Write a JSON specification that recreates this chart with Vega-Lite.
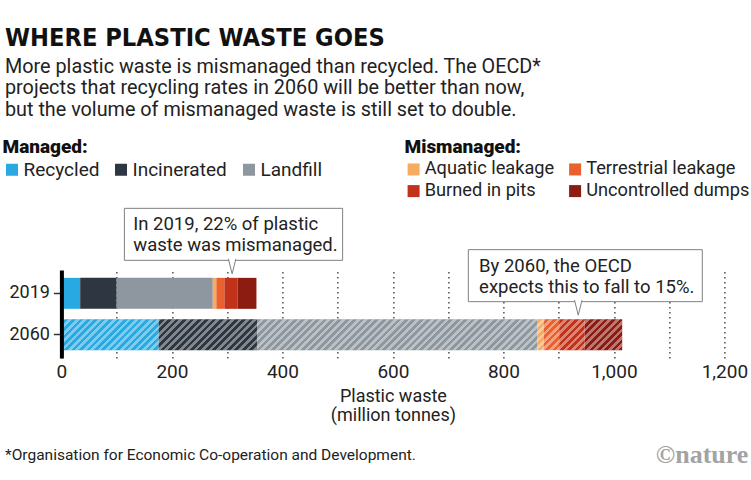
{
  "$schema": "https://vega.github.io/schema/vega-lite/v6.json",
  "width": 663,
  "height": 88,
  "autosize": {"type": "none"},
  "padding": {"left": 61.4, "top": 270, "right": 26.6, "bottom": 122},
  "background": "white",
  "config": {
    "view": {"stroke": null},
    "font": "Roboto",
    "legend": {
      "orient": "none",
      "direction": "horizontal",
      "symbolType": "square",
      "symbolSize": 144,
      "symbolStrokeWidth": 0,
      "labelFont": "Roboto",
      "labelFontSize": 18.2,
      "labelColor": "#222",
      "labelOffset": 2,
      "labelLimit": 300,
      "columnPadding": 12,
      "rowPadding": 3,
      "titleFont": "Roboto",
      "titleFontSize": 19,
      "titleFontWeight": 900,
      "titleColor": "#111",
      "titlePadding": 3,
      "padding": 0
    }
  },
  "title": {
    "text": "WHERE PLASTIC WASTE GOES",
    "subtitle": [
      "More plastic waste is mismanaged than recycled. The OECD*",
      "projects that recycling rates in 2060 will be better than now,",
      "but the volume of mismanaged waste is still set to double."
    ],
    "anchor": "start",
    "frame": "group",
    "dx": -56.4,
    "offset": 18.5,
    "font": "DejaVu Sans Condensed",
    "fontSize": 25.2,
    "fontWeight": "bold",
    "color": "#111",
    "subtitleFont": "Roboto",
    "subtitleFontSize": 19.8,
    "subtitleColor": "#222",
    "subtitleLineHeight": 21.5,
    "subtitlePadding": 6
  },
  "datasets": {
    "waste": [
      {"year": "2019", "category": "Recycled", "group": "Managed", "order": 1, "value": 34},
      {"year": "2019", "category": "Incinerated", "group": "Managed", "order": 2, "value": 66},
      {"year": "2019", "category": "Landfill", "group": "Managed", "order": 3, "value": 174},
      {"year": "2019", "category": "Aquatic leakage", "group": "Mismanaged", "order": 4, "value": 6.5},
      {"year": "2019", "category": "Terrestrial leakage", "group": "Mismanaged", "order": 5, "value": 14.5},
      {"year": "2019", "category": "Burned in pits", "group": "Mismanaged", "order": 6, "value": 24},
      {"year": "2019", "category": "Uncontrolled dumps", "group": "Mismanaged", "order": 7, "value": 34},
      {"year": "2060", "category": "Recycled", "group": "Managed", "order": 1, "value": 176},
      {"year": "2060", "category": "Incinerated", "group": "Managed", "order": 2, "value": 178},
      {"year": "2060", "category": "Landfill", "group": "Managed", "order": 3, "value": 507},
      {"year": "2060", "category": "Aquatic leakage", "group": "Mismanaged", "order": 4, "value": 12},
      {"year": "2060", "category": "Terrestrial leakage", "group": "Mismanaged", "order": 5, "value": 28},
      {"year": "2060", "category": "Burned in pits", "group": "Mismanaged", "order": 6, "value": 46},
      {"year": "2060", "category": "Uncontrolled dumps", "group": "Mismanaged", "order": 7, "value": 68}
    ],
    "notes": [
      {"year": "2019", "left": 114, "right": 509, "tip": 309, "tx": 130, "text": "In 2019, 22% of plastic|waste was mismanaged."},
      {"year": "2060", "left": 736.5, "right": 1160, "tip": 935.5, "tx": 756, "text": "By 2060, the OECD|expects this to fall to 15%."}
    ],
    "footer": [
      {"note": "*Organisation for Economic Co-operation and Development.", "logo": "©nature", "year": "2060", "start": 0, "end": 1200}
    ]
  },
  "data": {"name": "waste"},
  "transform": [
    {"stack": "value", "groupby": ["year"], "sort": [{"field": "order", "order": "ascending"}], "as": ["x0", "x1"]}
  ],
  "layer": [
    {
      "transform": [{"filter": "datum.group === 'Managed'"}],
      "mark": {"type": "bar"},
      "encoding": {
        "y": {
          "field": "year",
          "type": "nominal",
          "scale": {"domain": ["2019", "2060"], "paddingInner": 0.25, "paddingOuter": 0.19},
          "axis": {
            "title": null,
            "domainColor": "#000",
            "domainWidth": 4,
            "tickColor": "#333",
            "tickSize": 8,
            "tickWidth": 1.5,
            "labelFont": "Roboto",
            "labelFontSize": 18,
            "labelColor": "#222",
            "labelPadding": 4,
            "zindex": 2
          }
        },
        "x": {
          "field": "x0",
          "type": "quantitative",
          "scale": {"domain": [0, 1200], "nice": false},
          "axis": {
            "values": [0, 100, 200, 300, 400, 500, 600, 700, 800, 900, 1000, 1100, 1200],
            "labelExpr": "datum.value % 200 === 0 ? format(datum.value, ',') : ''",
            "labelOverlap": false,
            "labelFlush": false,
            "grid": true,
            "gridDash": [1.5, 3.5],
            "gridColor": "#222",
            "gridWidth": 1.2,
            "domain": false,
            "ticks": false,
            "labelFont": "Roboto",
            "labelFontSize": 19,
            "labelColor": "#222",
            "labelPadding": 4,
            "title": ["Plastic waste", "(million tonnes)"],
            "titleFont": "Roboto",
            "titleFontSize": 18,
            "titleFontWeight": "normal",
            "titleColor": "#222",
            "titlePadding": 6,
            "titleLineHeight": 19.5
          }
        },
        "x2": {"field": "x1"},
        "color": {
          "field": "category",
          "type": "nominal",
          "scale": {
            "domain": ["Recycled", "Incinerated", "Landfill"],
            "range": ["#29a9e1", "#2e3641", "#8e979f"]
          },
          "legend": {"title": "Managed:", "legendX": -58.9, "legendY": -132, "columns": 3, "labelFontSize": 19, "columnPadding": 12}
        }
      }
    },
    {
      "transform": [{"filter": "datum.group === 'Mismanaged'"}],
      "mark": {"type": "bar"},
      "encoding": {
        "y": {"field": "year", "type": "nominal"},
        "x": {"field": "x0", "type": "quantitative"},
        "x2": {"field": "x1"},
        "color": {
          "field": "category",
          "type": "nominal",
          "scale": {
            "domain": ["Aquatic leakage", "Terrestrial leakage", "Burned in pits", "Uncontrolled dumps"],
            "range": ["#f6ab5f", "#ea6130", "#c0321a", "#8c1b11"]
          },
          "legend": {"title": "Mismanaged:", "legendX": 343.1, "legendY": -132, "columns": 2, "labelFontSize": 18.2, "columnPadding": 11.5}
        }
      }
    },
    {
      "transform": [
        {"filter": "datum.year === '2060'"},
        {"aggregate": [{"op": "min", "field": "x0", "as": "start"}, {"op": "max", "field": "x1", "as": "total"}], "groupby": ["year"]}
      ],
      "mark": {
        "type": "bar",
        "fill": {
          "gradient": "linear",
          "x1": 0, "y1": 0, "x2": 1.05206, "y2": 0.058157,
          "stops": [
            {"offset": 0, "color": "rgba(255,255,255,0.4)"},
            {"offset": 0.00625, "color": "rgba(255,255,255,0.4)"}, {"offset": 0.00625, "color": "rgba(255,255,255,0)"},
            {"offset": 0.0125, "color": "rgba(255,255,255,0)"}, {"offset": 0.0125, "color": "rgba(255,255,255,0.4)"},
            {"offset": 0.01875, "color": "rgba(255,255,255,0.4)"}, {"offset": 0.01875, "color": "rgba(255,255,255,0)"},
            {"offset": 0.025, "color": "rgba(255,255,255,0)"}, {"offset": 0.025, "color": "rgba(255,255,255,0.4)"},
            {"offset": 0.03125, "color": "rgba(255,255,255,0.4)"}, {"offset": 0.03125, "color": "rgba(255,255,255,0)"},
            {"offset": 0.0375, "color": "rgba(255,255,255,0)"}, {"offset": 0.0375, "color": "rgba(255,255,255,0.4)"},
            {"offset": 0.04375, "color": "rgba(255,255,255,0.4)"}, {"offset": 0.04375, "color": "rgba(255,255,255,0)"},
            {"offset": 0.05, "color": "rgba(255,255,255,0)"}, {"offset": 0.05, "color": "rgba(255,255,255,0.4)"},
            {"offset": 0.05625, "color": "rgba(255,255,255,0.4)"}, {"offset": 0.05625, "color": "rgba(255,255,255,0)"},
            {"offset": 0.0625, "color": "rgba(255,255,255,0)"}, {"offset": 0.0625, "color": "rgba(255,255,255,0.4)"},
            {"offset": 0.06875, "color": "rgba(255,255,255,0.4)"}, {"offset": 0.06875, "color": "rgba(255,255,255,0)"},
            {"offset": 0.075, "color": "rgba(255,255,255,0)"}, {"offset": 0.075, "color": "rgba(255,255,255,0.4)"},
            {"offset": 0.08125, "color": "rgba(255,255,255,0.4)"}, {"offset": 0.08125, "color": "rgba(255,255,255,0)"},
            {"offset": 0.0875, "color": "rgba(255,255,255,0)"}, {"offset": 0.0875, "color": "rgba(255,255,255,0.4)"},
            {"offset": 0.09375, "color": "rgba(255,255,255,0.4)"}, {"offset": 0.09375, "color": "rgba(255,255,255,0)"},
            {"offset": 0.1, "color": "rgba(255,255,255,0)"}, {"offset": 0.1, "color": "rgba(255,255,255,0.4)"},
            {"offset": 0.10625, "color": "rgba(255,255,255,0.4)"}, {"offset": 0.10625, "color": "rgba(255,255,255,0)"},
            {"offset": 0.1125, "color": "rgba(255,255,255,0)"}, {"offset": 0.1125, "color": "rgba(255,255,255,0.4)"},
            {"offset": 0.11875, "color": "rgba(255,255,255,0.4)"}, {"offset": 0.11875, "color": "rgba(255,255,255,0)"},
            {"offset": 0.125, "color": "rgba(255,255,255,0)"}, {"offset": 0.125, "color": "rgba(255,255,255,0.4)"},
            {"offset": 0.13125, "color": "rgba(255,255,255,0.4)"}, {"offset": 0.13125, "color": "rgba(255,255,255,0)"},
            {"offset": 0.1375, "color": "rgba(255,255,255,0)"}, {"offset": 0.1375, "color": "rgba(255,255,255,0.4)"},
            {"offset": 0.14375, "color": "rgba(255,255,255,0.4)"}, {"offset": 0.14375, "color": "rgba(255,255,255,0)"},
            {"offset": 0.15, "color": "rgba(255,255,255,0)"}, {"offset": 0.15, "color": "rgba(255,255,255,0.4)"},
            {"offset": 0.15625, "color": "rgba(255,255,255,0.4)"}, {"offset": 0.15625, "color": "rgba(255,255,255,0)"},
            {"offset": 0.1625, "color": "rgba(255,255,255,0)"}, {"offset": 0.1625, "color": "rgba(255,255,255,0.4)"},
            {"offset": 0.16875, "color": "rgba(255,255,255,0.4)"}, {"offset": 0.16875, "color": "rgba(255,255,255,0)"},
            {"offset": 0.175, "color": "rgba(255,255,255,0)"}, {"offset": 0.175, "color": "rgba(255,255,255,0.4)"},
            {"offset": 0.18125, "color": "rgba(255,255,255,0.4)"}, {"offset": 0.18125, "color": "rgba(255,255,255,0)"},
            {"offset": 0.1875, "color": "rgba(255,255,255,0)"}, {"offset": 0.1875, "color": "rgba(255,255,255,0.4)"},
            {"offset": 0.19375, "color": "rgba(255,255,255,0.4)"}, {"offset": 0.19375, "color": "rgba(255,255,255,0)"},
            {"offset": 0.2, "color": "rgba(255,255,255,0)"}, {"offset": 0.2, "color": "rgba(255,255,255,0.4)"},
            {"offset": 0.20625, "color": "rgba(255,255,255,0.4)"}, {"offset": 0.20625, "color": "rgba(255,255,255,0)"},
            {"offset": 0.2125, "color": "rgba(255,255,255,0)"}, {"offset": 0.2125, "color": "rgba(255,255,255,0.4)"},
            {"offset": 0.21875, "color": "rgba(255,255,255,0.4)"}, {"offset": 0.21875, "color": "rgba(255,255,255,0)"},
            {"offset": 0.225, "color": "rgba(255,255,255,0)"}, {"offset": 0.225, "color": "rgba(255,255,255,0.4)"},
            {"offset": 0.23125, "color": "rgba(255,255,255,0.4)"}, {"offset": 0.23125, "color": "rgba(255,255,255,0)"},
            {"offset": 0.2375, "color": "rgba(255,255,255,0)"}, {"offset": 0.2375, "color": "rgba(255,255,255,0.4)"},
            {"offset": 0.24375, "color": "rgba(255,255,255,0.4)"}, {"offset": 0.24375, "color": "rgba(255,255,255,0)"},
            {"offset": 0.25, "color": "rgba(255,255,255,0)"}, {"offset": 0.25, "color": "rgba(255,255,255,0.4)"},
            {"offset": 0.25625, "color": "rgba(255,255,255,0.4)"}, {"offset": 0.25625, "color": "rgba(255,255,255,0)"},
            {"offset": 0.2625, "color": "rgba(255,255,255,0)"}, {"offset": 0.2625, "color": "rgba(255,255,255,0.4)"},
            {"offset": 0.26875, "color": "rgba(255,255,255,0.4)"}, {"offset": 0.26875, "color": "rgba(255,255,255,0)"},
            {"offset": 0.275, "color": "rgba(255,255,255,0)"}, {"offset": 0.275, "color": "rgba(255,255,255,0.4)"},
            {"offset": 0.28125, "color": "rgba(255,255,255,0.4)"}, {"offset": 0.28125, "color": "rgba(255,255,255,0)"},
            {"offset": 0.2875, "color": "rgba(255,255,255,0)"}, {"offset": 0.2875, "color": "rgba(255,255,255,0.4)"},
            {"offset": 0.29375, "color": "rgba(255,255,255,0.4)"}, {"offset": 0.29375, "color": "rgba(255,255,255,0)"},
            {"offset": 0.3, "color": "rgba(255,255,255,0)"}, {"offset": 0.3, "color": "rgba(255,255,255,0.4)"},
            {"offset": 0.30625, "color": "rgba(255,255,255,0.4)"}, {"offset": 0.30625, "color": "rgba(255,255,255,0)"},
            {"offset": 0.3125, "color": "rgba(255,255,255,0)"}, {"offset": 0.3125, "color": "rgba(255,255,255,0.4)"},
            {"offset": 0.31875, "color": "rgba(255,255,255,0.4)"}, {"offset": 0.31875, "color": "rgba(255,255,255,0)"},
            {"offset": 0.325, "color": "rgba(255,255,255,0)"}, {"offset": 0.325, "color": "rgba(255,255,255,0.4)"},
            {"offset": 0.33125, "color": "rgba(255,255,255,0.4)"}, {"offset": 0.33125, "color": "rgba(255,255,255,0)"},
            {"offset": 0.3375, "color": "rgba(255,255,255,0)"}, {"offset": 0.3375, "color": "rgba(255,255,255,0.4)"},
            {"offset": 0.34375, "color": "rgba(255,255,255,0.4)"}, {"offset": 0.34375, "color": "rgba(255,255,255,0)"},
            {"offset": 0.35, "color": "rgba(255,255,255,0)"}, {"offset": 0.35, "color": "rgba(255,255,255,0.4)"},
            {"offset": 0.35625, "color": "rgba(255,255,255,0.4)"}, {"offset": 0.35625, "color": "rgba(255,255,255,0)"},
            {"offset": 0.3625, "color": "rgba(255,255,255,0)"}, {"offset": 0.3625, "color": "rgba(255,255,255,0.4)"},
            {"offset": 0.36875, "color": "rgba(255,255,255,0.4)"}, {"offset": 0.36875, "color": "rgba(255,255,255,0)"},
            {"offset": 0.375, "color": "rgba(255,255,255,0)"}, {"offset": 0.375, "color": "rgba(255,255,255,0.4)"},
            {"offset": 0.38125, "color": "rgba(255,255,255,0.4)"}, {"offset": 0.38125, "color": "rgba(255,255,255,0)"},
            {"offset": 0.3875, "color": "rgba(255,255,255,0)"}, {"offset": 0.3875, "color": "rgba(255,255,255,0.4)"},
            {"offset": 0.39375, "color": "rgba(255,255,255,0.4)"}, {"offset": 0.39375, "color": "rgba(255,255,255,0)"},
            {"offset": 0.4, "color": "rgba(255,255,255,0)"}, {"offset": 0.4, "color": "rgba(255,255,255,0.4)"},
            {"offset": 0.40625, "color": "rgba(255,255,255,0.4)"}, {"offset": 0.40625, "color": "rgba(255,255,255,0)"},
            {"offset": 0.4125, "color": "rgba(255,255,255,0)"}, {"offset": 0.4125, "color": "rgba(255,255,255,0.4)"},
            {"offset": 0.41875, "color": "rgba(255,255,255,0.4)"}, {"offset": 0.41875, "color": "rgba(255,255,255,0)"},
            {"offset": 0.425, "color": "rgba(255,255,255,0)"}, {"offset": 0.425, "color": "rgba(255,255,255,0.4)"},
            {"offset": 0.43125, "color": "rgba(255,255,255,0.4)"}, {"offset": 0.43125, "color": "rgba(255,255,255,0)"},
            {"offset": 0.4375, "color": "rgba(255,255,255,0)"}, {"offset": 0.4375, "color": "rgba(255,255,255,0.4)"},
            {"offset": 0.44375, "color": "rgba(255,255,255,0.4)"}, {"offset": 0.44375, "color": "rgba(255,255,255,0)"},
            {"offset": 0.45, "color": "rgba(255,255,255,0)"}, {"offset": 0.45, "color": "rgba(255,255,255,0.4)"},
            {"offset": 0.45625, "color": "rgba(255,255,255,0.4)"}, {"offset": 0.45625, "color": "rgba(255,255,255,0)"},
            {"offset": 0.4625, "color": "rgba(255,255,255,0)"}, {"offset": 0.4625, "color": "rgba(255,255,255,0.4)"},
            {"offset": 0.46875, "color": "rgba(255,255,255,0.4)"}, {"offset": 0.46875, "color": "rgba(255,255,255,0)"},
            {"offset": 0.475, "color": "rgba(255,255,255,0)"}, {"offset": 0.475, "color": "rgba(255,255,255,0.4)"},
            {"offset": 0.48125, "color": "rgba(255,255,255,0.4)"}, {"offset": 0.48125, "color": "rgba(255,255,255,0)"},
            {"offset": 0.4875, "color": "rgba(255,255,255,0)"}, {"offset": 0.4875, "color": "rgba(255,255,255,0.4)"},
            {"offset": 0.49375, "color": "rgba(255,255,255,0.4)"}, {"offset": 0.49375, "color": "rgba(255,255,255,0)"},
            {"offset": 0.5, "color": "rgba(255,255,255,0)"}, {"offset": 0.5, "color": "rgba(255,255,255,0.4)"},
            {"offset": 0.50625, "color": "rgba(255,255,255,0.4)"}, {"offset": 0.50625, "color": "rgba(255,255,255,0)"},
            {"offset": 0.5125, "color": "rgba(255,255,255,0)"}, {"offset": 0.5125, "color": "rgba(255,255,255,0.4)"},
            {"offset": 0.51875, "color": "rgba(255,255,255,0.4)"}, {"offset": 0.51875, "color": "rgba(255,255,255,0)"},
            {"offset": 0.525, "color": "rgba(255,255,255,0)"}, {"offset": 0.525, "color": "rgba(255,255,255,0.4)"},
            {"offset": 0.53125, "color": "rgba(255,255,255,0.4)"}, {"offset": 0.53125, "color": "rgba(255,255,255,0)"},
            {"offset": 0.5375, "color": "rgba(255,255,255,0)"}, {"offset": 0.5375, "color": "rgba(255,255,255,0.4)"},
            {"offset": 0.54375, "color": "rgba(255,255,255,0.4)"}, {"offset": 0.54375, "color": "rgba(255,255,255,0)"},
            {"offset": 0.55, "color": "rgba(255,255,255,0)"}, {"offset": 0.55, "color": "rgba(255,255,255,0.4)"},
            {"offset": 0.55625, "color": "rgba(255,255,255,0.4)"}, {"offset": 0.55625, "color": "rgba(255,255,255,0)"},
            {"offset": 0.5625, "color": "rgba(255,255,255,0)"}, {"offset": 0.5625, "color": "rgba(255,255,255,0.4)"},
            {"offset": 0.56875, "color": "rgba(255,255,255,0.4)"}, {"offset": 0.56875, "color": "rgba(255,255,255,0)"},
            {"offset": 0.575, "color": "rgba(255,255,255,0)"}, {"offset": 0.575, "color": "rgba(255,255,255,0.4)"},
            {"offset": 0.58125, "color": "rgba(255,255,255,0.4)"}, {"offset": 0.58125, "color": "rgba(255,255,255,0)"},
            {"offset": 0.5875, "color": "rgba(255,255,255,0)"}, {"offset": 0.5875, "color": "rgba(255,255,255,0.4)"},
            {"offset": 0.59375, "color": "rgba(255,255,255,0.4)"}, {"offset": 0.59375, "color": "rgba(255,255,255,0)"},
            {"offset": 0.6, "color": "rgba(255,255,255,0)"}, {"offset": 0.6, "color": "rgba(255,255,255,0.4)"},
            {"offset": 0.60625, "color": "rgba(255,255,255,0.4)"}, {"offset": 0.60625, "color": "rgba(255,255,255,0)"},
            {"offset": 0.6125, "color": "rgba(255,255,255,0)"}, {"offset": 0.6125, "color": "rgba(255,255,255,0.4)"},
            {"offset": 0.61875, "color": "rgba(255,255,255,0.4)"}, {"offset": 0.61875, "color": "rgba(255,255,255,0)"},
            {"offset": 0.625, "color": "rgba(255,255,255,0)"}, {"offset": 0.625, "color": "rgba(255,255,255,0.4)"},
            {"offset": 0.63125, "color": "rgba(255,255,255,0.4)"}, {"offset": 0.63125, "color": "rgba(255,255,255,0)"},
            {"offset": 0.6375, "color": "rgba(255,255,255,0)"}, {"offset": 0.6375, "color": "rgba(255,255,255,0.4)"},
            {"offset": 0.64375, "color": "rgba(255,255,255,0.4)"}, {"offset": 0.64375, "color": "rgba(255,255,255,0)"},
            {"offset": 0.65, "color": "rgba(255,255,255,0)"}, {"offset": 0.65, "color": "rgba(255,255,255,0.4)"},
            {"offset": 0.65625, "color": "rgba(255,255,255,0.4)"}, {"offset": 0.65625, "color": "rgba(255,255,255,0)"},
            {"offset": 0.6625, "color": "rgba(255,255,255,0)"}, {"offset": 0.6625, "color": "rgba(255,255,255,0.4)"},
            {"offset": 0.66875, "color": "rgba(255,255,255,0.4)"}, {"offset": 0.66875, "color": "rgba(255,255,255,0)"},
            {"offset": 0.675, "color": "rgba(255,255,255,0)"}, {"offset": 0.675, "color": "rgba(255,255,255,0.4)"},
            {"offset": 0.68125, "color": "rgba(255,255,255,0.4)"}, {"offset": 0.68125, "color": "rgba(255,255,255,0)"},
            {"offset": 0.6875, "color": "rgba(255,255,255,0)"}, {"offset": 0.6875, "color": "rgba(255,255,255,0.4)"},
            {"offset": 0.69375, "color": "rgba(255,255,255,0.4)"}, {"offset": 0.69375, "color": "rgba(255,255,255,0)"},
            {"offset": 0.7, "color": "rgba(255,255,255,0)"}, {"offset": 0.7, "color": "rgba(255,255,255,0.4)"},
            {"offset": 0.70625, "color": "rgba(255,255,255,0.4)"}, {"offset": 0.70625, "color": "rgba(255,255,255,0)"},
            {"offset": 0.7125, "color": "rgba(255,255,255,0)"}, {"offset": 0.7125, "color": "rgba(255,255,255,0.4)"},
            {"offset": 0.71875, "color": "rgba(255,255,255,0.4)"}, {"offset": 0.71875, "color": "rgba(255,255,255,0)"},
            {"offset": 0.725, "color": "rgba(255,255,255,0)"}, {"offset": 0.725, "color": "rgba(255,255,255,0.4)"},
            {"offset": 0.73125, "color": "rgba(255,255,255,0.4)"}, {"offset": 0.73125, "color": "rgba(255,255,255,0)"},
            {"offset": 0.7375, "color": "rgba(255,255,255,0)"}, {"offset": 0.7375, "color": "rgba(255,255,255,0.4)"},
            {"offset": 0.74375, "color": "rgba(255,255,255,0.4)"}, {"offset": 0.74375, "color": "rgba(255,255,255,0)"},
            {"offset": 0.75, "color": "rgba(255,255,255,0)"}, {"offset": 0.75, "color": "rgba(255,255,255,0.4)"},
            {"offset": 0.75625, "color": "rgba(255,255,255,0.4)"}, {"offset": 0.75625, "color": "rgba(255,255,255,0)"},
            {"offset": 0.7625, "color": "rgba(255,255,255,0)"}, {"offset": 0.7625, "color": "rgba(255,255,255,0.4)"},
            {"offset": 0.76875, "color": "rgba(255,255,255,0.4)"}, {"offset": 0.76875, "color": "rgba(255,255,255,0)"},
            {"offset": 0.775, "color": "rgba(255,255,255,0)"}, {"offset": 0.775, "color": "rgba(255,255,255,0.4)"},
            {"offset": 0.78125, "color": "rgba(255,255,255,0.4)"}, {"offset": 0.78125, "color": "rgba(255,255,255,0)"},
            {"offset": 0.7875, "color": "rgba(255,255,255,0)"}, {"offset": 0.7875, "color": "rgba(255,255,255,0.4)"},
            {"offset": 0.79375, "color": "rgba(255,255,255,0.4)"}, {"offset": 0.79375, "color": "rgba(255,255,255,0)"},
            {"offset": 0.8, "color": "rgba(255,255,255,0)"}, {"offset": 0.8, "color": "rgba(255,255,255,0.4)"},
            {"offset": 0.80625, "color": "rgba(255,255,255,0.4)"}, {"offset": 0.80625, "color": "rgba(255,255,255,0)"},
            {"offset": 0.8125, "color": "rgba(255,255,255,0)"}, {"offset": 0.8125, "color": "rgba(255,255,255,0.4)"},
            {"offset": 0.81875, "color": "rgba(255,255,255,0.4)"}, {"offset": 0.81875, "color": "rgba(255,255,255,0)"},
            {"offset": 0.825, "color": "rgba(255,255,255,0)"}, {"offset": 0.825, "color": "rgba(255,255,255,0.4)"},
            {"offset": 0.83125, "color": "rgba(255,255,255,0.4)"}, {"offset": 0.83125, "color": "rgba(255,255,255,0)"},
            {"offset": 0.8375, "color": "rgba(255,255,255,0)"}, {"offset": 0.8375, "color": "rgba(255,255,255,0.4)"},
            {"offset": 0.84375, "color": "rgba(255,255,255,0.4)"}, {"offset": 0.84375, "color": "rgba(255,255,255,0)"},
            {"offset": 0.85, "color": "rgba(255,255,255,0)"}, {"offset": 0.85, "color": "rgba(255,255,255,0.4)"},
            {"offset": 0.85625, "color": "rgba(255,255,255,0.4)"}, {"offset": 0.85625, "color": "rgba(255,255,255,0)"},
            {"offset": 0.8625, "color": "rgba(255,255,255,0)"}, {"offset": 0.8625, "color": "rgba(255,255,255,0.4)"},
            {"offset": 0.86875, "color": "rgba(255,255,255,0.4)"}, {"offset": 0.86875, "color": "rgba(255,255,255,0)"},
            {"offset": 0.875, "color": "rgba(255,255,255,0)"}, {"offset": 0.875, "color": "rgba(255,255,255,0.4)"},
            {"offset": 0.88125, "color": "rgba(255,255,255,0.4)"}, {"offset": 0.88125, "color": "rgba(255,255,255,0)"},
            {"offset": 0.8875, "color": "rgba(255,255,255,0)"}, {"offset": 0.8875, "color": "rgba(255,255,255,0.4)"},
            {"offset": 0.89375, "color": "rgba(255,255,255,0.4)"}, {"offset": 0.89375, "color": "rgba(255,255,255,0)"},
            {"offset": 0.9, "color": "rgba(255,255,255,0)"}, {"offset": 0.9, "color": "rgba(255,255,255,0.4)"},
            {"offset": 0.90625, "color": "rgba(255,255,255,0.4)"}, {"offset": 0.90625, "color": "rgba(255,255,255,0)"},
            {"offset": 0.9125, "color": "rgba(255,255,255,0)"}, {"offset": 0.9125, "color": "rgba(255,255,255,0.4)"},
            {"offset": 0.91875, "color": "rgba(255,255,255,0.4)"}, {"offset": 0.91875, "color": "rgba(255,255,255,0)"},
            {"offset": 0.925, "color": "rgba(255,255,255,0)"}, {"offset": 0.925, "color": "rgba(255,255,255,0.4)"},
            {"offset": 0.93125, "color": "rgba(255,255,255,0.4)"}, {"offset": 0.93125, "color": "rgba(255,255,255,0)"},
            {"offset": 0.9375, "color": "rgba(255,255,255,0)"}, {"offset": 0.9375, "color": "rgba(255,255,255,0.4)"},
            {"offset": 0.94375, "color": "rgba(255,255,255,0.4)"}, {"offset": 0.94375, "color": "rgba(255,255,255,0)"},
            {"offset": 0.95, "color": "rgba(255,255,255,0)"}, {"offset": 0.95, "color": "rgba(255,255,255,0.4)"},
            {"offset": 0.95625, "color": "rgba(255,255,255,0.4)"}, {"offset": 0.95625, "color": "rgba(255,255,255,0)"},
            {"offset": 0.9625, "color": "rgba(255,255,255,0)"}, {"offset": 0.9625, "color": "rgba(255,255,255,0.4)"},
            {"offset": 0.96875, "color": "rgba(255,255,255,0.4)"}, {"offset": 0.96875, "color": "rgba(255,255,255,0)"},
            {"offset": 0.975, "color": "rgba(255,255,255,0)"}, {"offset": 0.975, "color": "rgba(255,255,255,0.4)"},
            {"offset": 0.98125, "color": "rgba(255,255,255,0.4)"}, {"offset": 0.98125, "color": "rgba(255,255,255,0)"},
            {"offset": 0.9875, "color": "rgba(255,255,255,0)"}, {"offset": 0.9875, "color": "rgba(255,255,255,0.4)"},
            {"offset": 0.99375, "color": "rgba(255,255,255,0.4)"}, {"offset": 0.99375, "color": "rgba(255,255,255,0)"},
            {"offset": 1, "color": "rgba(255,255,255,0)"}
          ]
        }
      },
      "encoding": {
        "y": {"field": "year", "type": "nominal"},
        "x": {"field": "start", "type": "quantitative"},
        "x2": {"field": "total"}
      }
    },
    {
      "data": {"name": "notes"},
      "mark": {"type": "rect", "height": 52, "yOffset": -59, "fill": "white", "stroke": "#808080", "strokeWidth": 1},
      "encoding": {
        "y": {"field": "year", "type": "nominal"},
        "x": {"field": "left", "type": "quantitative"},
        "x2": {"field": "right"}
      }
    },
    {
      "data": {"name": "notes"},
      "mark": {"type": "point", "shape": "M-0.5,-1L0,1L0.5,-1", "size": 225, "filled": true, "fill": "white", "opacity": 1, "stroke": "#808080", "strokeWidth": 1, "yOffset": -27},
      "encoding": {
        "y": {"field": "year", "type": "nominal"},
        "x": {"field": "tip", "type": "quantitative"}
      }
    },
    {
      "data": {"name": "notes"},
      "mark": {"type": "text", "lineBreak": "|", "lineHeight": 21, "align": "left", "baseline": "middle", "dy": -69, "font": "Roboto", "fontSize": 18.5, "fill": "#222"},
      "encoding": {
        "y": {"field": "year", "type": "nominal"},
        "x": {"field": "tx", "type": "quantitative"},
        "text": {"field": "text"}
      }
    },
    {
      "data": {"name": "footer"},
      "mark": {"type": "text", "align": "left", "baseline": "middle", "dx": -56.4, "dy": 120, "font": "Roboto", "fontSize": 15.5, "fill": "#222"},
      "encoding": {
        "y": {"field": "year", "type": "nominal"},
        "x": {"field": "start", "type": "quantitative"},
        "text": {"field": "note"}
      }
    },
    {
      "data": {"name": "footer"},
      "mark": {"type": "text", "align": "right", "baseline": "middle", "dx": 24, "dy": 120, "font": "Liberation Serif", "fontSize": 26, "fontWeight": "bold", "fill": "#a3a3a3"},
      "encoding": {
        "y": {"field": "year", "type": "nominal"},
        "x": {"field": "end", "type": "quantitative"},
        "text": {"field": "logo"}
      }
    }
  ],
  "resolve": {"scale": {"color": "independent"}}
}
